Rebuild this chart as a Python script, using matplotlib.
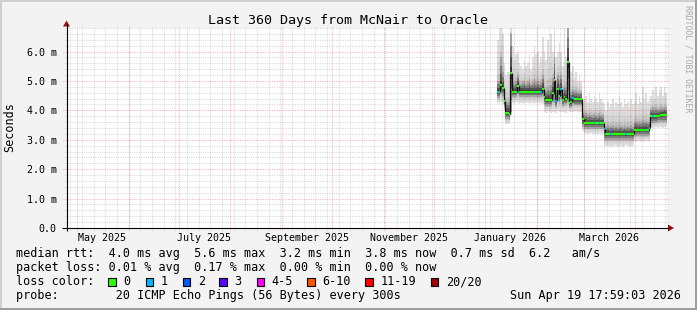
import matplotlib
matplotlib.use('Agg')
import matplotlib.pyplot as plt
import matplotlib.dates as mdates
from matplotlib.patches import Rectangle, Polygon
from datetime import datetime, timedelta
import numpy as np

W, H = 697, 310
MONO = 'DejaVu Sans Mono'

# ---------------- data ----------------
title = "Last 360 Days from McNair to Oracle"
y_label = "Seconds"
end_time = datetime(2026, 4, 19, 17, 59, 3)
start_time = end_time - timedelta(days=360)
data_start = datetime(2026, 1, 8)

# daily median rtt (ms)
median = [4.62, 4.62, 4.85, 4.75, 4.32, 3.92, 3.92, 3.88, 5.28,
          4.64, 4.64, 4.64, 4.84, 4.64, 4.64, 4.64, 4.64, 4.64, 4.64, 4.64, 4.64, 4.64, 4.64, 4.64, 4.64, 4.64, 4.64,
          4.74, 4.45, 4.35, 4.35, 4.35, 4.35, 4.60, 5.03, 4.33, 4.74, 4.50, 4.74, 4.35, 4.45, 4.40, 5.65,
          4.26, 4.30, 4.42, 4.37, 4.37, 4.37, 4.37, 4.37,
          3.69, 3.57, 3.57, 3.57, 3.57, 3.57, 3.57, 3.57, 3.57, 3.57, 3.57, 3.57, 3.57,
          3.36, 3.20, 3.20, 3.20, 3.20, 3.20, 3.20, 3.20, 3.20, 3.20, 3.20, 3.20, 3.20, 3.20, 3.20, 3.20, 3.20, 3.20,
          3.34, 3.34, 3.34, 3.34, 3.34, 3.34, 3.34, 3.34, 3.34, 3.39,
          3.80, 3.80, 3.80, 3.80, 3.82, 3.82, 3.85, 3.85, 3.85, 3.85]

# packets lost out of 20 per day
loss = [1, 0, 0, 0, 0, 0, 0, 0, 0, 0, 0, 0, 0, 1, 0, 0, 0, 0, 0, 0,
        0, 0, 1, 0, 0, 0, 1, 0, 0, 0, 0, 0, 0, 0, 0, 1, 0, 0, 1, 0,
        0, 0, 0, 0, 0, 1, 0, 0, 0, 0, 0, 0, 0, 0, 0, 0, 0, 0, 1, 0,
        0, 1, 0, 0, 1, 0, 0, 0, 1, 0, 0, 0, 0, 0, 0, 0, 0, 1, 0, 0,
        0, 0, 0, 0, 0, 0, 0, 0, 1, 0, 0, 1, 0, 1, 0, 0, 0, 0, 0, 0,
        0, 0]

# smoke: min, lower core, upper core, max ping rtt (ms)
ping_min = [4.25, 4.22, 4.28, 4.20, 4.00, 3.55, 3.52, 3.58, 3.80,
            4.25, 4.22, 4.27, 4.25, 4.20, 4.26, 4.24, 4.22, 4.27, 4.25, 4.21, 4.26, 4.24, 4.20, 4.25, 4.27, 4.22, 4.25,
            4.20, 3.95, 3.92, 3.98, 3.95, 3.90, 3.96, 3.95, 3.92, 3.97, 3.95, 3.93, 3.96, 3.95, 3.92, 3.97,
            3.94, 3.96, 3.93, 3.95, 3.97, 3.94, 3.96, 3.93,
            3.30, 3.20, 3.22, 3.18, 3.20, 3.23, 3.19, 3.21, 3.20, 3.18, 3.22, 3.20, 3.21,
            2.70, 2.78, 2.80, 2.76, 2.79, 2.77, 2.81, 2.78, 2.76, 2.80, 2.78, 2.77, 2.79, 2.81, 2.78, 2.76, 2.80, 2.78,
            2.95, 2.93, 2.97, 2.95, 2.92, 2.96, 2.94, 2.97, 2.95, 2.93,
            3.42, 3.40, 3.44, 3.42, 3.41, 3.43, 3.42, 3.40, 3.44, 3.42]
ping_q1 = [4.42, 4.42, 4.55, 4.50, 4.10, 3.70, 3.70, 3.68, 3.95,
           4.45, 4.45, 4.45, 4.55, 4.45, 4.45, 4.45, 4.45, 4.45, 4.45, 4.45, 4.45, 4.45, 4.45, 4.45, 4.45, 4.45, 4.45,
           4.50, 4.20, 4.15, 4.15, 4.15, 4.15, 4.30, 4.30, 4.12, 4.40, 4.25, 4.40, 4.15, 4.20, 4.20, 4.30,
           4.08, 4.10, 4.20, 4.17, 4.17, 4.17, 4.17, 4.17,
           3.45, 3.38, 3.38, 3.38, 3.38, 3.38, 3.38, 3.38, 3.38, 3.38, 3.38, 3.38, 3.38,
           3.00, 3.00, 3.00, 3.00, 3.00, 3.00, 3.00, 3.00, 3.00, 3.00, 3.00, 3.00, 3.00, 3.00, 3.00, 3.00, 3.00, 3.00,
           3.12, 3.12, 3.12, 3.12, 3.12, 3.12, 3.12, 3.12, 3.12, 3.15,
           3.58, 3.58, 3.58, 3.58, 3.60, 3.60, 3.62, 3.62, 3.62, 3.62]
ping_q3 = [5.00, 5.00, 5.80, 5.30, 4.70, 4.30, 4.30, 4.30, 6.60,
           4.95, 4.90, 5.00, 5.20, 4.95, 4.90, 4.95, 5.00, 4.90, 4.95, 5.05, 4.90, 4.95, 5.05, 4.95, 5.00, 4.90, 4.95,
           5.20, 4.80, 4.70, 4.80, 4.70, 4.85, 5.10, 5.80, 4.70, 5.20, 5.00, 5.20, 4.70, 4.90, 4.80, 6.80,
           4.60, 4.62, 4.70, 4.65, 4.70, 4.62, 4.65, 4.62,
           3.90, 3.85, 3.90, 3.85, 3.90, 3.85, 3.83, 3.87, 3.85, 3.83, 3.90, 3.85, 3.83,
           3.55, 3.45, 3.50, 3.45, 3.47, 3.50, 3.45, 3.48, 3.45, 3.51, 3.47, 3.45, 3.49, 3.45, 3.47, 3.45, 3.50, 3.45,
           3.60, 3.65, 3.60, 3.63, 3.60, 3.67, 3.61, 3.65, 3.60, 3.65,
           4.05, 4.10, 4.05, 4.10, 4.05, 4.07, 4.10, 4.07, 4.13, 4.10]
ping_max = [6.40, 6.80, 6.80, 6.60, 5.60, 5.20, 5.30, 5.20, 6.80,
            6.20, 5.70, 5.90, 6.00, 5.60, 5.50, 5.40, 5.70, 5.50, 5.60, 5.90, 5.40, 5.80, 6.20, 5.90, 6.00, 5.60, 5.80,
            6.50, 6.00, 5.70, 6.40, 5.80, 6.60, 6.00, 6.80, 5.80, 6.00, 6.30, 6.00, 5.50, 6.80, 5.80, 6.80,
            5.40, 5.30, 5.50, 5.10, 5.30, 5.00, 5.20, 5.00,
            4.30, 4.40, 4.50, 4.30, 4.60, 4.40, 4.30, 4.50, 4.40, 4.30, 4.60, 4.40, 4.30,
            4.20, 4.00, 4.30, 4.10, 4.20, 4.40, 4.10, 4.30, 4.20, 4.50, 4.30, 4.10, 4.40, 4.20, 4.30, 4.10, 4.40, 4.20,
            4.30, 4.60, 4.20, 4.50, 4.30, 4.80, 4.40, 4.60, 4.30, 4.40,
            4.50, 4.70, 4.40, 4.80, 4.50, 4.70, 4.80, 4.50, 4.80, 4.60]

y_ticks = [0, 1, 2, 3, 4, 5, 6]
y_tick_labels = ["0.0", "1.0 m", "2.0 m", "3.0 m", "4.0 m", "5.0 m", "6.0 m"]
y_max = 6.8
month_labels = ["May 2025", "July 2025", "September 2025", "November 2025", "January 2026", "March 2026"]
month_label_dates = [datetime(2025, 5, 16), datetime(2025, 7, 16), datetime(2025, 9, 16),
                     datetime(2025, 11, 16), datetime(2026, 1, 16), datetime(2026, 3, 16)]

legend_rtt = "median rtt:  4.0 ms avg  5.6 ms max  3.2 ms min  3.8 ms now  0.7 ms sd  6.2   am/s"
legend_loss = "packet loss: 0.01 % avg  0.17 % max  0.00 % min  0.00 % now"
legend_color_title = "loss color:"
legend_probe = "probe:        20 ICMP Echo Pings (56 Bytes) every 300s"
legend_date = "Sun Apr 19 17:59:03 2026"
watermark = "RRDTOOL / TOBI OETIKER"
loss_labels = ["0", "1", "2", "3", "4-5", "6-10", "11-19", "20/20"]
loss_colors = ["#26ff00", "#00b8ff", "#0059ff", "#5e00ff", "#ff00ff", "#ff5500", "#ff0000", "#a10000"]
loss_box_x = [108, 145.7, 182.7, 219.3, 256.7, 307.3, 365.3, 430.7]


def loss_bucket(n):
    if n <= 3:
        return n
    if n <= 5:
        return 4
    if n <= 10:
        return 5
    if n <= 19:
        return 6
    return 7


# ---------------- figure ----------------
fig = plt.figure(figsize=(W / 100, H / 100), dpi=100)
fig.patch.set_facecolor('#f3f3f3')

bg = fig.add_axes([0, 0, 1, 1], zorder=0)
bg.set_xlim(0, W)
bg.set_ylim(H, 0)
bg.axis('off')
bg.add_patch(Rectangle((0, 0), W, 2, color='#cfcfcf', lw=0))
bg.add_patch(Rectangle((0, 0), 2, H, color='#cfcfcf', lw=0))
bg.add_patch(Rectangle((0, H - 2.5), W, 2.5, color='#9e9e9e', lw=0))
bg.add_patch(Rectangle((W - 2.5, 0), 2.5, H, color='#9e9e9e', lw=0))

PX0, PX1, PY0, PY1 = 66.5, 666.5, 28, 228
ax = fig.add_axes([PX0 / W, 1 - PY1 / H, (PX1 - PX0) / W, (PY1 - PY0) / H], zorder=1)
ax.set_facecolor('white')
for s in ax.spines.values():
    s.set_visible(False)
x_start = mdates.date2num(start_time)
x_end = mdates.date2num(end_time)
ax.set_xlim(x_start, x_end)
ax.set_ylim(0, y_max)

# smoke
days = [data_start + timedelta(days=i) for i in range(len(median))]
edges = mdates.date2num(days + [days[-1] + timedelta(days=1)])


def ext(a):
    a = np.asarray(a, float)
    return np.append(a, a[-1])


med = np.asarray(median, float)
lo = np.asarray(ping_min, float)
q1 = np.asarray(ping_q1, float)
q3 = np.asarray(ping_q3, float)
hi = np.asarray(ping_max, float)

# (fraction toward core, grey level) for the shaded bands of the smoke
bands = [(0.00, 0.875), (0.30, 0.855), (0.60, 0.82), (0.85, 0.75),
         (1.00, 0.64), (1.30, 0.48), (1.60, 0.32), (1.85, 0.18)]
for t, g in bands:
    if t <= 1.0:
        a = lo + (q1 - lo) * t
        b = hi + (q3 - hi) * t
    else:
        a = q1 + (med - q1) * (t - 1.0)
        b = q3 + (med - q3) * (t - 1.0)
    ax.fill_between(edges, ext(a), ext(b), step='post', color=(g, g, g), lw=0, zorder=1)

# grid
minor_c = (0.45, 0.45, 0.45, 0.28)
major_c = (1.0, 0.0, 0.0, 0.30)
dots = (0, (1, 1.2))
ext_x = 2 / (PX1 - PX0)
ext_y = 2 / (PY1 - PY0)
for v in np.arange(1, 35):
    yv = v * 0.2
    if v % 5 == 0:
        ax.axhline(yv, xmin=-ext_x * 2, xmax=1 + ext_x, color=major_c, lw=0.75, ls=dots, zorder=2, clip_on=False)
    else:
        ax.axhline(yv, xmin=-ext_x, xmax=1 + ext_x, color=minor_c, lw=0.75, ls=dots, zorder=2, clip_on=False)
d = datetime(2025, 4, 27)
while d < end_time:
    ax.axvline(mdates.date2num(d), ymin=-ext_y, ymax=1 + ext_y, color=minor_c, lw=0.75, ls=dots, zorder=2, clip_on=False)
    d += timedelta(days=7)
for yy, mm in [(2025, m) for m in range(5, 13)] + [(2026, m) for m in range(1, 5)]:
    ax.axvline(mdates.date2num(datetime(yy, mm, 1)), ymin=-ext_y, ymax=1 + ext_y, color=major_c, lw=0.75,
               ls=dots, zorder=2, clip_on=False)

# median line coloured by loss
colors = [loss_colors[loss_bucket(n)] for n in loss]
chg = np.nonzero(np.diff(med))[0]
ax.vlines(edges[1:-1][chg], med[:-1][chg], med[1:][chg], colors='#111111', lw=0.9, zorder=3)
ax.hlines(med, edges[:-1], edges[1:], colors=colors, lw=1.6, zorder=4)

# ticks / labels
ax.set_yticks(y_ticks, labels=y_tick_labels)
ax.tick_params(axis='y', length=0, pad=7, labelsize=7.2, labelfontfamily=MONO)
ax.set_xticks([])
for lab, dt in zip(month_labels, month_label_dates):
    ax.text(mdates.date2num(dt), -12.7 / 200 * y_max, lab, ha='center', va='baseline',
            fontsize=7.2, family=MONO, clip_on=False)

# overlay
ov = fig.add_axes([0, 0, 1, 1], zorder=5)
ov.set_xlim(0, W)
ov.set_ylim(H, 0)
ov.axis('off')
ov.patch.set_visible(False)
ov.plot([62, 669], [228, 228], color='black', lw=0.8, solid_capstyle='butt')
ov.plot([66.5, 66.5], [231, 24], color='black', lw=0.8, solid_capstyle='butt')
arrow_c = '#991111'
ov.add_patch(Polygon([[668, 224.5], [668, 231.5], [674, 228]], closed=True, color=arrow_c, lw=0))
ov.add_patch(Polygon([[63, 26.5], [70, 26.5], [66.5, 20.5]], closed=True, color=arrow_c, lw=0))

ov.text(348, 24, title, ha='center', va='baseline', fontsize=9.6, family=MONO)
ov.text(9.5, 127, y_label, ha='center', va='center', rotation=90, fontsize=8.5, family=MONO)
ov.text(688, 59, watermark, ha='center', va='center', rotation=270, fontsize=5.9, family=MONO, color='#a8a8a8')

FS = 8.5
ov.text(15.5, 257.3, legend_rtt, ha='left', va='baseline', fontsize=FS, family=MONO)
ov.text(15.5, 271.3, legend_loss, ha='left', va='baseline', fontsize=FS, family=MONO)
ov.text(15.5, 285.3, legend_color_title, ha='left', va='baseline', fontsize=FS, family=MONO)
for bx, lab, c in zip(loss_box_x, loss_labels, loss_colors):
    ov.add_patch(Rectangle((bx, 278.3), 7.5, 7.5, facecolor=c, edgecolor='black', lw=0.8))
    ov.text(bx + 15, 285.3, lab, ha='left', va='baseline', fontsize=FS, family=MONO)
ov.text(15.5, 299.3, legend_probe, ha='left', va='baseline', fontsize=FS, family=MONO)
ov.text(680.5, 299.3, legend_date, ha='right', va='baseline', fontsize=FS, family=MONO)

fig.savefig('out.png', dpi=100, facecolor=fig.get_facecolor())
